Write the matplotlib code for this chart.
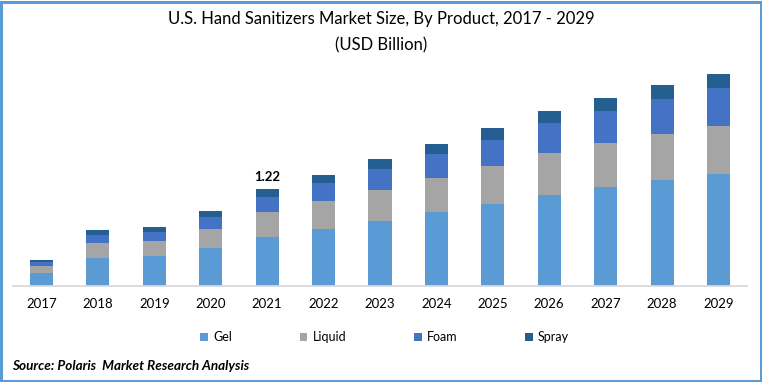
import matplotlib
matplotlib.use("Agg")
import matplotlib.pyplot as plt
from matplotlib.patches import Rectangle
import numpy as np

years = ["2017", "2018", "2019", "2020", "2021", "2022", "2023", "2024", "2025", "2026", "2027", "2028", "2029"]
gel = [0.164, 0.352, 0.377, 0.478, 0.616, 0.717, 0.818, 0.930, 1.031, 1.145, 1.245, 1.333, 1.409]
liquid = [0.088, 0.189, 0.189, 0.239, 0.314, 0.352, 0.390, 0.428, 0.478, 0.528, 0.553, 0.579, 0.604]
foam = [0.050, 0.100, 0.113, 0.151, 0.189, 0.226, 0.264, 0.302, 0.327, 0.377, 0.403, 0.440, 0.478]
spray = [0.025, 0.063, 0.063, 0.075, 0.101, 0.101, 0.126, 0.126, 0.151, 0.151, 0.164, 0.176, 0.176]
series_names = ["Gel", "Liquid", "Foam", "Spray"]
colors = ["#5B9BD5", "#A5A5A5", "#4472C4", "#255E91"]
label_year = "2021"
label_text = "1.22"

plt.rcParams['font.family'] = ['Lato', 'DejaVu Sans']

W, H = 762, 382
fig = plt.figure(figsize=(W / 100, H / 100), dpi=100)

# axes placement in pixels
left_px, right_px = 13.3, 746.7
base_px = 286
ymax = 2.8
unit_px = 79.5
top_px = base_px - ymax * unit_px
ax = fig.add_axes([left_px / W, (H - base_px) / H, (right_px - left_px) / W, (base_px - top_px) / H])

x = np.arange(len(years))
bottom = np.zeros(len(years))
handles = []
for name, vals, c in zip(series_names, [gel, liquid, foam, spray], colors):
    b = ax.bar(x, vals, width=0.41, bottom=bottom, color=c, label=name, linewidth=0)
    handles.append(b)
    bottom = bottom + np.array(vals)

i = years.index(label_year)
ax.text(x[i], bottom[i] + 0.07, label_text, ha="center", va="bottom", fontsize=9.5, fontweight="bold", color="#000000")

ax.set_xlim(-0.5, len(years) - 0.5)
ax.set_ylim(0, ymax)
ax.set_xticks(x)
ax.set_xticklabels(years, fontsize=9.5, color="#000000")
ax.tick_params(axis="x", length=0, pad=9)
ax.set_yticks([])
for s in ["top", "right", "left"]:
    ax.spines[s].set_visible(False)
ax.spines["bottom"].set_color("#D9D9D9")
ax.spines["bottom"].set_linewidth(1.3)

fig.text(0.5, 1 - 19 / H, "U.S. Hand Sanitizers Market Size, By Product, 2017 - 2029", ha="center", va="center", fontsize=12, color="#000000")
fig.text(0.5, 1 - 45 / H, "(USD Billion)", ha="center", va="center", fontsize=12, color="#000000")

leg = fig.legend(handles=handles, labels=series_names, loc="center", bbox_to_anchor=(0.505, 1 - 337 / H), ncol=4, frameon=False,
                 fontsize=9, handlelength=0.6, handleheight=0.6, handletextpad=0.4, columnspacing=5.45)

fig.text(12 / W, 1 - 366 / H, "Source: Polaris  Market Research Analysis", ha="left", va="center", fontsize=9.7, fontweight="bold", fontstyle="italic", color="#000000")

# outer border
fig.patches.append(Rectangle((1.25 / W, 1.5 / H), (W - 2.5) / W, (H - 3) / H, transform=fig.transFigure, fill=False, edgecolor="#5B9BD5", linewidth=2.2))

fig.savefig("out.png", dpi=100, facecolor="white")
